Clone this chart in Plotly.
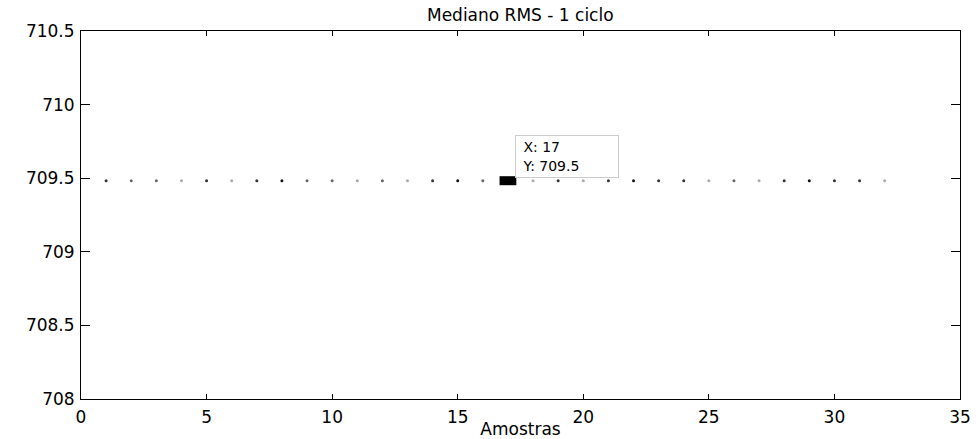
import plotly.graph_objects as go

title = "Mediano RMS - 1 ciclo"
x_label = "Amostras"
samples = list(range(1, 33))
rms_values = [709.483] * 32
tip_index = 17

x_ticks = [0, 5, 10, 15, 20, 25, 30, 35]
y_ticks = [708, 708.5, 709, 709.5, 710, 710.5]
y_tick_text = ["708", "708.5", "709", "709.5", "710", "710.5"]

# per-point grey shade (anti-aliasing look of the original)
D, K, M, L = "#333333", "#111111", "#666666", "#aaaaaa"
shades = [D, M, M, L, D, L, D, K, M, M, L, M, L, D, K, M, D, L, D, L,
          D, K, D, D, L, M, L, D, K, D, D, L]

font = dict(family="DejaVu Sans", size=17, color="black")

fig = go.Figure()
fig.add_trace(go.Scatter(
    x=samples, y=rms_values, mode="markers",
    marker=dict(size=3, color=shades, line=dict(width=0)),
    hoverinfo="skip", showlegend=False))

tx = samples[tip_index - 1]
ty = rms_values[tip_index - 1]
fig.add_trace(go.Scatter(
    x=[tx], y=[ty], mode="markers",
    marker=dict(symbol="line-ew", size=12, line=dict(width=9, color="black")),
    hoverinfo="skip", showlegend=False))

fig.add_annotation(
    x=tx, y=ty, xref="x", yref="y",
    text=f"&nbsp;X: {tx}<br>&nbsp;Y: {ty:.4g}", showarrow=False,
    xanchor="left", yanchor="bottom", align="left",
    width=96, height=35, xshift=7, yshift=3,
    bgcolor="white", bordercolor="#cccccc", borderwidth=1, borderpad=3,
    font=dict(family="DejaVu Sans", size=14, color="black"))

axis_common = dict(
    showline=True, linecolor="black", linewidth=1, mirror="allticks",
    ticks="inside", tickcolor="black", tickwidth=1,
    showgrid=False, zeroline=False, tickfont=font, automargin=False)

fig.update_layout(
    width=978, height=439,
    margin=dict(l=81, r=18, t=31, b=40),
    paper_bgcolor="white", plot_bgcolor="white",
    title=dict(text=title, x=0.532, xanchor="center", y=0.965, yanchor="middle",
               font=font),
    xaxis=dict(range=[0, 35], tickvals=x_ticks, ticklen=5, ticklabelstandoff=3,
               title=dict(text=x_label, font=font, standoff=0), **axis_common),
    yaxis=dict(range=[708, 710.5], tickvals=y_ticks, ticktext=y_tick_text,
               ticklen=9, ticklabelstandoff=2, **axis_common),
)

fig.write_html("out.html")
